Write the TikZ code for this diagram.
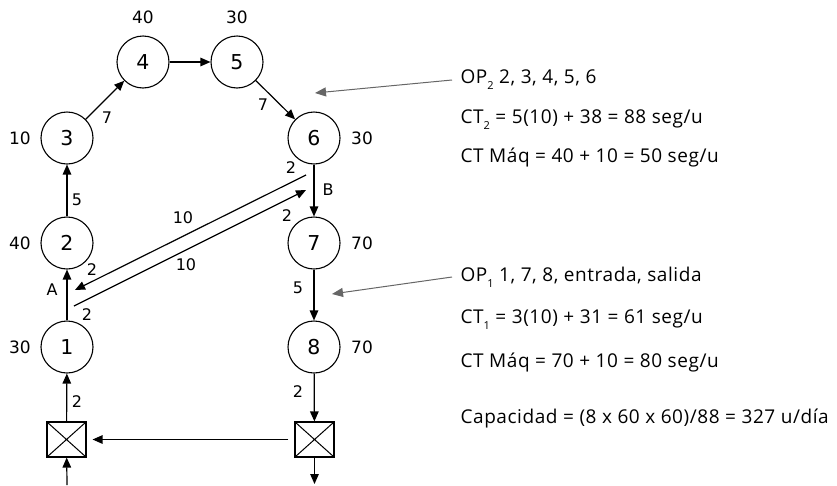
\documentclass[tikz,border=0pt]{standalone}
\usepackage{fontspec}
\setmainfont{DejaVu Sans}
\newfontfamily\rfont[LetterSpace=3]{Open Sans}
\usetikzlibrary{arrows.meta}
\newcommand{\lowsub}[1]{\raisebox{-6pt}{\fontsize{11}{11}\selectfont #1}}
\begin{document}
\begin{tikzpicture}[x=1pt,y=-1pt,
  line width=1.2pt,
  tip/.style={-{Triangle[length=10pt,width=8.5pt]}},
  stn/.style={circle,draw,line width=1.1pt,minimum size=52pt,inner sep=0pt,font=\fontsize{20.5}{24}\selectfont},
  crossbox/.style={draw,line width=1.1pt,rectangle,minimum width=39pt,minimum height=35pt,inner sep=0pt,
    path picture={\draw[line width=1pt] (path picture bounding box.south west) -- (path picture bounding box.north east)
      (path picture bounding box.north west) -- (path picture bounding box.south east);}},
  tlab/.style={font=\fontsize{17}{20}\selectfont,inner sep=0pt},
  elab/.style={font=\fontsize{16}{19}\selectfont,inner sep=0pt},
  rtxt/.style={font=\rfont\fontsize{19}{22}\selectfont,inner sep=0pt,anchor=west},
  garrow/.style={draw=black!60,line width=1pt,-{Triangle[length=11pt,width=9pt]},black!60}
]
\useasboundingbox (0,0) rectangle (837,485);

% stations
\node[stn] (n1) at (67,347) {1};
\node[stn] (n2) at (67,243) {2};
\node[stn] (n3) at (67,138) {3};
\node[stn] (n4) at (143,62) {4};
\node[stn] (n5) at (237,62) {5};
\node[stn] (n6) at (314,138) {6};
\node[stn] (n7) at (314,243) {7};
\node[stn] (n8) at (314,347) {8};

% boxes
\node[crossbox] (bl) at (66.5,439.5) {};
\node[crossbox] (br) at (314.5,439.5) {};

% outer labels
\node[tlab] (l4) at (143,17) {40};
\node[tlab] (l5) at (237,17) {30};
\node[tlab] (l3) at (20,138) {10};
\node[tlab] (l6) at (362,138) {30};
\node[tlab] (l2) at (20,243) {40};
\node[tlab] (l7) at (362,243) {70};
\node[tlab] (l1) at (20,347) {30};
\node[tlab] (l8) at (362,347) {70};

% connectors
\coordinate (in) at (67,485);
\coordinate (out) at (314.5,484);
\draw[tip] (in) -- (bl);
\draw[tip] (bl) -- (n1);
\draw[tip] (n1) -- (n2);
\draw[tip] (n2) -- (n3);
\draw[tip] (n3) -- (n4);
\draw[tip] (n4) -- (n5);
\draw[tip] (n5) -- (n6);
\draw[tip] (n6) -- (n7);
\draw[tip] (n7) -- (n8);
\draw[tip] (n8) -- (br);
\draw[tip] (br) -- (out);
\draw[tip,shorten <=6pt,shorten >=6pt] (br) -- (bl);

% diagonal transfers
\coordinate (d1s) at (306,175);
\coordinate (d1e) at (75,290);
\coordinate (d2s) at (74,306);
\coordinate (d2e) at (306,190);
\draw[tip] (d1s) -- (d1e);
\draw[tip] (d2s) -- (d2e);

% edge labels
\node[elab] (e34) at (107,118) {7};
\node[elab] (e56) at (263,105) {7};
\node[elab] (e23) at (77,200) {5};
\node[elab] (e67) at (328,190) {B};
\node[elab] (e12) at (52,290) {A};
\node[elab] (e78) at (298,288) {5};
\node[elab] (e8b) at (298,392) {2};
\node[elab] (eb1) at (77,402) {2};
\node[elab] (d1a) at (291,168) {2};
\node[elab] (d1b) at (183,218) {10};
\node[elab] (d1c) at (92,270) {2};
\node[elab] (d2a) at (87,315) {2};
\node[elab] (d2b) at (186,265) {10};
\node[elab] (d2c) at (287,216) {2};

% right-hand text
\node[rtxt] (op2) at (460,80) {OP\lowsub{2} 2, 3, 4, 5, 6};
\node[rtxt] (ct2) at (460,120) {CT\lowsub{2} = 5(10) + 38 = 88 seg/u};
\node[rtxt] (cm2) at (460,157) {CT Máq = 40 + 10 = 50 seg/u};
\node[rtxt] (op1) at (460,277) {OP\lowsub{1} 1, 7, 8, entrada, salida};
\node[rtxt] (ct1) at (460,320) {CT\lowsub{1} = 3(10) + 31 = 61 seg/u};
\node[rtxt] (cm1) at (460,362) {CT Máq = 70 + 10 = 80 seg/u};
\node[rtxt] (cap) at (460,418) {Capacidad = (8 x 60 x 60)/88 = 327 u/día};

\coordinate (g2) at (315,93);
\coordinate (g1) at (332,294);
\draw[garrow] ([xshift=-8pt]op2.west) -- (g2);
\draw[garrow] ([xshift=-8pt]op1.west) -- (g1);
\end{tikzpicture}
\end{document}
